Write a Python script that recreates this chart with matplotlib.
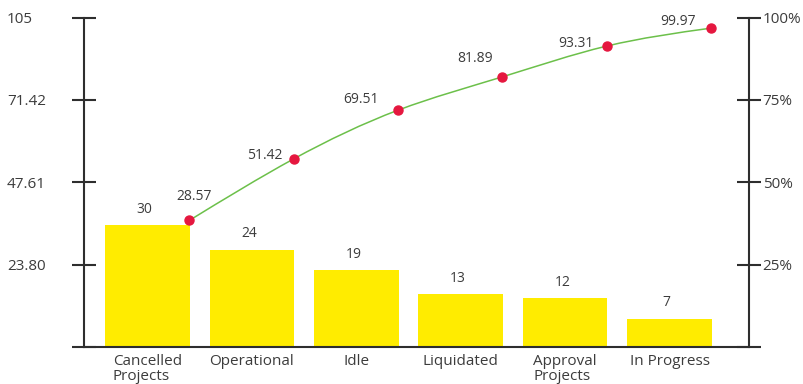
import matplotlib

matplotlib.use("Agg")
import matplotlib.pyplot as plt
import numpy as np
from matplotlib.patches import PathPatch
from matplotlib.path import Path

# data
categories = ["Cancelled\nProjects", "Operational", "Idle", "Liquidated", "Approval\nProjects", "In Progress"]
counts = [30, 24, 19, 13, 12, 7]
cumulative = [28.57, 51.42, 69.51, 81.89, 93.31, 99.97]
left_tick_labels = ["", "23.80", "47.61", "71.42", "105"]
right_tick_labels = ["", "25%", "50%", "75%", "100%"]

# label offsets (points) for the cumulative values
cum_offsets = [(3.6, 16.9), (-20.7, 2.7), (-26.4, 7.4), (-19.9, 13.0), (-22.3, 1.9), (-24.0, 4.6)]

YELLOW = "#FFEC00"
GREEN = "#6CC04A"
RED = "#E5173F"
INK = "#3c3c3c"
SPINE = "#2e2e2e"

plt.rcParams["font.family"] = ["Open Sans", "DejaVu Sans"]


def smooth_path(xs, ys):
    # natural cubic spline through the points, as bezier segments
    n = len(ys)
    ys = np.asarray(ys, dtype=float)
    A = np.zeros((n, n))
    b = np.zeros(n)
    A[0, 0], A[0, 1], b[0] = 2, 1, 3 * (ys[1] - ys[0])
    A[-1, -2], A[-1, -1], b[-1] = 1, 2, 3 * (ys[-1] - ys[-2])
    for i in range(1, n - 1):
        A[i, i - 1], A[i, i], A[i, i + 1] = 1, 4, 1
        b[i] = 3 * (ys[i + 1] - ys[i - 1])
    d = np.linalg.solve(A, b)
    verts = [(xs[0], ys[0])]
    codes = [Path.MOVETO]
    for i in range(n - 1):
        dx = xs[i + 1] - xs[i]
        verts += [(xs[i] + dx / 3, ys[i] + d[i] / 3),
                  (xs[i + 1] - dx / 3, ys[i + 1] - d[i + 1] / 3),
                  (xs[i + 1], ys[i + 1])]
        codes += [Path.CURVE4] * 3
    return Path(verts, codes)


fig = plt.figure(figsize=(8.04, 3.84), dpi=100, facecolor="white")
ax = fig.add_axes([0.1045, 0.0956, 0.8271, 0.8588])
axr = ax.twinx()
axc = ax.twinx()

x = np.arange(len(categories))
bar_top = 81
ax.bar(x, counts, width=0.81, color=YELLOW, zorder=2)
for xi, v in zip(x, counts):
    ax.annotate(str(v), (xi, v), xytext=(-2, 6), textcoords="offset points",
                ha="center", va="bottom", fontsize=10, color=INK)

ax.set_xlim(-0.608, 5.761)
ax.set_ylim(0, bar_top)
ax.set_xticks(x)
ax.set_xticklabels(categories, fontsize=11, color=INK, linespacing=1.0)
for lab in ax.get_xticklabels():
    lab.set_multialignment("left")
ax.tick_params(axis="x", length=0, pad=4.5)

ax.set_yticks(np.linspace(0, bar_top, 5))
ax.set_yticklabels(left_tick_labels, fontsize=11, color=INK)
ax.tick_params(axis="y", direction="inout", length=17.3, width=1.5, color=SPINE, pad=46.8)
for lab in ax.get_yticklabels():
    lab.set_horizontalalignment("left")

axr.set_ylim(0, 100)
axr.set_yticks([0, 25, 50, 75, 100])
axr.set_yticklabels(right_tick_labels, fontsize=11, color=INK)
axr.tick_params(axis="y", direction="inout", length=17.3, width=1.5, color=SPINE, pad=1.2)

for a in (ax, axr, axc):
    a.spines["top"].set_visible(False)
ax.spines["right"].set_visible(False)
axc.spines["right"].set_visible(False)
axc.spines["left"].set_visible(False)
axc.spines["bottom"].set_visible(False)
ax.spines["left"].set_color(SPINE)
ax.spines["left"].set_linewidth(1.5)
ax.spines["bottom"].set_color(SPINE)
ax.spines["bottom"].set_linewidth(1.5)
axr.spines["right"].set_color(SPINE)
axr.spines["right"].set_linewidth(1.5)
axr.spines["left"].set_visible(False)
axr.spines["bottom"].set_visible(False)

# cumulative curve sits on its own hidden scale
axc.set_ylim(-18.5, 103.9)
axc.set_yticks([])
cx = x + 0.4
axc.add_patch(PathPatch(smooth_path(cx, cumulative), fill=False, edgecolor=GREEN, lw=1.1, zorder=3))
axc.plot(cx, cumulative, "o", color=RED, markersize=6.5, zorder=4)
for xi, v, off in zip(cx, cumulative, cum_offsets):
    axc.annotate(f"{v:.2f}", (xi, v), xytext=off, textcoords="offset points",
                 ha="center", va="center", fontsize=10, color=INK)

fig.savefig("out.png", dpi=100, facecolor="white")
